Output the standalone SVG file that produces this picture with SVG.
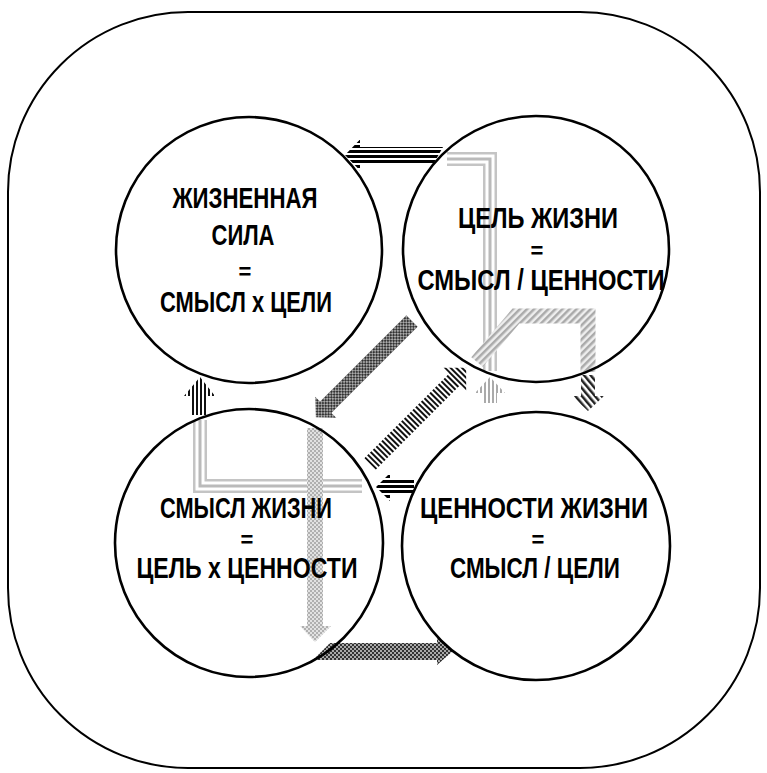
<svg xmlns="http://www.w3.org/2000/svg" width="767" height="773" viewBox="0 0 767 773">
<defs>
<style>
.frame{fill:none;stroke:#000;stroke-width:2}
.node circle{fill:none;stroke:#000;stroke-width:2.6}
.t{font-family:"Liberation Sans","DejaVu Sans",sans-serif;font-weight:bold;font-size:29px;fill:#000;text-anchor:middle}
.eq{font-family:"Liberation Sans","DejaVu Sans",sans-serif;font-weight:bold;font-size:22px;fill:#000;text-anchor:middle}
.ga{fill:none;stroke:#c4c4c4;stroke-width:14;stroke-linejoin:miter}
.gb{fill:none;stroke:#fff;stroke-width:9;stroke-linejoin:miter}
.gc{fill:none;stroke:#bababa;stroke-width:3;stroke-linejoin:miter}
</style>
<pattern id="hs" width="6" height="5" patternUnits="userSpaceOnUse"><rect width="6" height="3" fill="#000"/></pattern>
<pattern id="vs" width="4" height="6" patternUnits="userSpaceOnUse"><rect width="2" height="6" fill="#111"/></pattern>
<pattern id="vg" width="4" height="6" patternUnits="userSpaceOnUse"><rect width="2" height="6" fill="#aaa"/></pattern>
<pattern id="xd" width="4" height="4" patternUnits="userSpaceOnUse"><rect width="4" height="4" fill="#aaa"/><rect width="2" height="2" fill="#333"/><rect x="2" y="2" width="2" height="2" fill="#333"/></pattern>
<pattern id="xl" width="4" height="4" patternUnits="userSpaceOnUse"><rect width="4" height="4" fill="#e2e2e2"/><rect width="2" height="2" fill="#b0b0b0"/><rect x="2" y="2" width="2" height="2" fill="#b0b0b0"/></pattern>
<pattern id="dh" width="5" height="5" patternUnits="userSpaceOnUse" patternTransform="rotate(45)"><rect width="5" height="5" fill="#eee"/><rect width="2.5" height="5" fill="#aaa"/></pattern>
<pattern id="dd" width="5" height="5" patternUnits="userSpaceOnUse" patternTransform="rotate(-40)"><rect width="2.5" height="5" fill="#222"/></pattern>
</defs>
<rect width="767" height="773" fill="#fff"/>
<rect class="frame" x="8" y="12" width="752" height="756" rx="180" ry="180"/>
<g id="connectors">
  <polygon points="345,155 360,139.5 360,147 443,147 434,163 360,163 360,170.5" fill="url(#hs)"/>
  <g>
    <path class="ga" d="M447 159 H490 V371"/>
    <path class="gb" d="M447 159 H490 V371"/>
    <path class="gc" d="M447 159 H490 V371"/>
    <polygon points="490,377 475,393 483,393 483,403 497,403 497,393 505,393" fill="url(#vg)"/>
  </g>
  <path d="M477 362 L516 316 H588 V372" fill="none" stroke="url(#dh)" stroke-width="15" stroke-linejoin="miter"/>
  <polygon points="581,375 595,375 595,396 604,396 588,411 572,396 581,396" fill="url(#dd)"/>
  <polygon transform="translate(412,321) rotate(135)" points="0,-8 122,-8 122,-15 136,0 122,15 122,8 0,8" fill="url(#xd)"/>
  <polygon transform="translate(370,464) rotate(-45)" points="0,-8 120,-8 120,-16 136,0 120,16 120,8 0,8" fill="url(#vs)"/>
  <polygon points="376,487 390,473 390,480 414,480 414,494 390,494 390,501" fill="url(#hs)"/>
  <polygon points="200,377 215,396 208,396 208,415 192,415 192,396 184,396" fill="url(#vs)"/>
  <g>
    <path class="ga" d="M200 420 V486 H362"/>
    <path class="gb" d="M200 420 V486 H362"/>
    <path class="gc" d="M200 420 V486 H362"/>
  </g>
  <polygon points="307,428 323,428 323,626 331,626 315,642 300,626 307,626" fill="url(#xl)"/>
  <polygon points="313,660 330,643 437,643 437,637 453,651 437,665 437,660" fill="url(#xd)"/>
</g>
<g id="node-sila" class="node">
  <circle cx="249" cy="250" r="133"/>
  <text class="t" x="245" y="208" textLength="145" lengthAdjust="spacingAndGlyphs">ЖИЗНЕННАЯ</text>
  <text class="t" x="243" y="245" textLength="63" lengthAdjust="spacingAndGlyphs">СИЛА</text>
  <text class="eq" x="245" y="279">=</text>
  <text class="t" x="246" y="312" textLength="172" lengthAdjust="spacingAndGlyphs">СМЫСЛ x ЦЕЛИ</text>
</g>
<g id="node-cel" class="node">
  <circle cx="536" cy="249" r="133"/>
  <text class="t" x="538" y="228" textLength="160" lengthAdjust="spacingAndGlyphs">ЦЕЛЬ ЖИЗНИ</text>
  <text class="eq" x="537" y="258">=</text>
  <text class="t" x="541" y="290" textLength="247" lengthAdjust="spacingAndGlyphs">СМЫСЛ / ЦЕННОСТИ</text>
</g>
<g id="node-smysl" class="node">
  <circle cx="249" cy="543" r="134"/>
  <text class="t" x="246" y="518" textLength="172" lengthAdjust="spacingAndGlyphs">СМЫСЛ ЖИЗНИ</text>
  <text class="eq" x="247" y="547">=</text>
  <text class="t" x="247" y="578" textLength="221" lengthAdjust="spacingAndGlyphs">ЦЕЛЬ x ЦЕННОСТИ</text>
</g>
<g id="node-cennosti" class="node">
  <circle cx="536" cy="546" r="134"/>
  <text class="t" x="534" y="518" textLength="228" lengthAdjust="spacingAndGlyphs">ЦЕННОСТИ ЖИЗНИ</text>
  <text class="eq" x="538" y="547">=</text>
  <text class="t" x="535" y="578" textLength="170" lengthAdjust="spacingAndGlyphs">СМЫСЛ / ЦЕЛИ</text>
</g>
</svg>
